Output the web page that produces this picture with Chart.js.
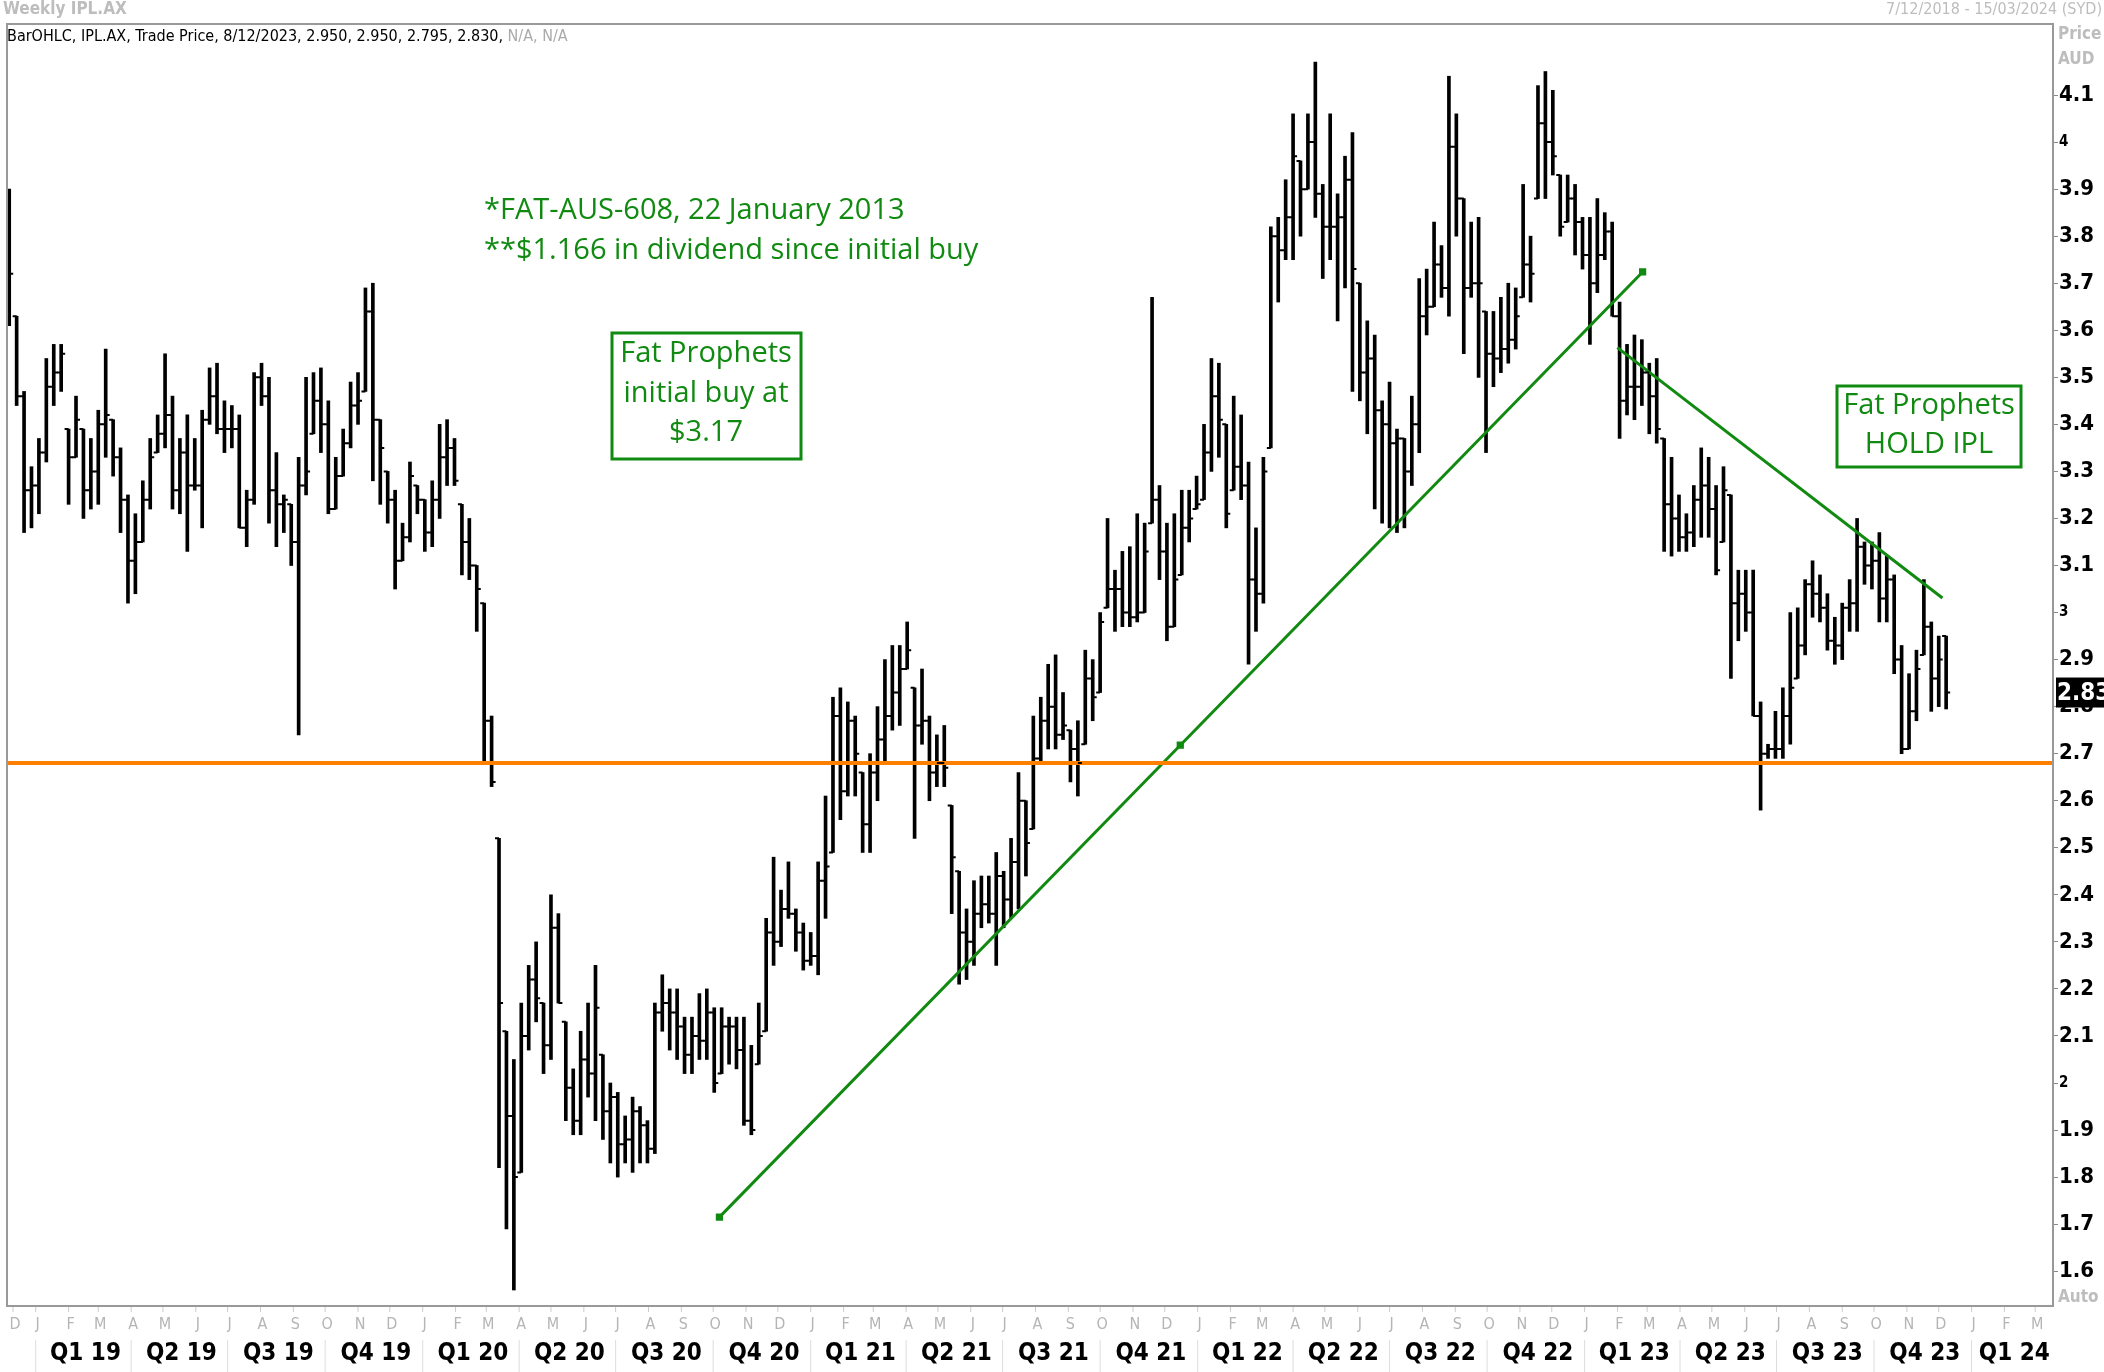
<!DOCTYPE html>
<html>
<head>
<meta charset="utf-8">
<script src="https://cdn.jsdelivr.net/npm/chart.js@4.4.0/dist/chart.umd.min.js"></script>
<style>
  html, body { margin:0; padding:0; background:#fff; }
  #wrap { width:2104px; height:1372px; }
</style>
</head>
<body>
<div id="wrap"><canvas id="c" width="2104" height="1372"></canvas></div>
<script>
// weekly bars, week 0 = 7/12/2018
const highs = [
3.90,3.63,3.47,3.31,3.37,3.54,3.57,3.57,3.39,3.46, 3.39,3.37,3.43,3.56,3.41,3.35,3.25,3.21,3.28,3.37,
3.42,3.55,3.46,3.37,3.42,3.37,3.43,3.52,3.53,3.45, 3.44,3.42,3.26,3.51,3.53,3.50,3.34,3.25,3.23,3.33,
3.50,3.51,3.52,3.45,3.33,3.39,3.49,3.51,3.69,3.70, 3.41,3.30,3.26,3.19,3.32,3.27,3.24,3.28,3.40,3.41,
3.37,3.23,3.20,3.10,3.02,2.78,2.52,
2.11,2.05,2.17,2.25,2.30,2.17,2.40,2.36,2.13,2.03, 2.11,2.17,2.25,2.06,2.00,1.98,1.93,1.97,1.95,1.92,
2.17,2.23,2.20,2.20,2.14,2.14,2.19,2.20,2.16,2.16, 2.14,2.14,2.14,2.08,2.17,2.35,2.48,2.41,2.47,2.37,
2.34,2.32,2.47,2.61,2.82,2.84,2.81,2.78,2.66,2.70, 2.80,2.90,2.93,2.93,2.98,2.84,2.88,2.78,2.74,2.76,
2.59,2.45,2.37,2.43,2.44,2.44,2.49,
2.45,2.52,2.66,2.60,2.78,2.82,2.89,2.91,2.83,2.75, 2.77,2.92,2.90,3.00,3.20,3.09,3.13,3.14,3.21,3.19,
3.67,3.27,3.19,3.21,3.26,3.26,3.29,3.40,3.54,3.53, 3.40,3.46,3.42,3.32,3.18,3.33,3.82,3.84,3.92,4.06,
3.96,4.06,4.17,3.91,4.06,3.89,3.97,4.02,3.70,3.62, 3.59,3.45,3.49,3.39,3.37,3.46,3.71,3.73,3.83,3.78,
4.14,4.06,3.88,3.83,3.84,3.64,3.64,3.67,3.70,3.69, 3.91,3.80,4.12,
4.15,4.11,3.93,3.93,3.91,3.84,3.84,3.88,3.85,3.83, 3.66,3.57,3.59,3.58,3.53,3.54,3.37,3.33,3.25,3.21,
3.27,3.35,3.33,3.27,3.31,3.25,3.09,3.09,3.09,2.81, 2.72,2.79,2.84,3.00,3.01,3.07,3.11,3.08,3.04,2.99,
3.02,3.07,3.20,3.15,3.15,3.17,3.12,3.08,2.93,2.87, 2.92,3.07,2.98,2.95,2.95
];
const lows = [
3.61,3.44,3.17,3.18,3.21,3.32,3.44,3.47,3.23,3.33, 3.20,3.22,3.23,3.33,3.29,3.17,3.02,3.04,3.15,3.22,
3.34,3.35,3.22,3.21,3.13,3.26,3.18,3.40,3.38,3.34, 3.35,3.18,3.14,3.23,3.44,3.19,3.14,3.17,3.10,2.74,
3.25,3.38,3.34,3.21,3.22,3.29,3.35,3.40,3.47,3.28, 3.23,3.19,3.05,3.11,3.15,3.21,3.13,3.14,3.20,3.27,
3.27,3.08,3.07,2.96,2.68,2.63,1.82,
1.69,1.56,1.81,2.07,2.13,2.02,2.05,2.17,1.92,1.89, 1.89,1.97,1.92,1.88,1.83,1.80,1.83,1.81,1.83,1.83,
1.85,2.11,2.07,2.05,2.02,2.02,2.05,2.05,1.98,2.02, 2.04,2.03,1.91,1.89,2.04,2.11,2.25,2.29,2.35,2.28,
2.24,2.25,2.23,2.35,2.49,2.56,2.61,2.61,2.49,2.49, 2.60,2.68,2.75,2.76,2.88,2.52,2.72,2.60,2.63,2.63,
2.36,2.21,2.22,2.25,2.33,2.34,2.25,
2.33,2.35,2.37,2.44,2.54,2.68,2.71,2.71,2.73,2.64, 2.61,2.72,2.77,2.83,3.01,2.96,2.97,2.97,2.98,3.00,
3.19,3.07,2.94,2.97,3.08,3.15,3.22,3.24,3.30,3.33, 3.18,3.26,3.24,2.89,2.96,3.02,3.35,3.66,3.75,3.75,
3.80,3.90,3.84,3.71,3.75,3.62,3.69,3.47,3.45,3.38, 3.22,3.19,3.18,3.17,3.18,3.27,3.34,3.59,3.65,3.67,
3.63,3.80,3.55,3.67,3.50,3.34,3.48,3.51,3.53,3.56, 3.67,3.66,3.88,
3.88,3.93,3.80,3.83,3.76,3.73,3.57,3.68,3.75,3.63, 3.37,3.42,3.41,3.44,3.38,3.36,3.13,3.12,3.13,3.13,
3.14,3.16,3.16,3.08,3.15,2.86,2.94,2.96,2.78,2.58, 2.69,2.69,2.69,2.72,2.86,2.91,2.99,2.98,2.92,2.89,
2.90,2.96,2.96,3.06,3.05,2.98,2.98,2.87,2.70,2.71, 2.77,2.91,2.79,2.80,2.795
];
const closes = [
3.72,3.46,3.26,3.27,3.34,3.48,3.51,3.55,3.33,3.41, 3.26,3.30,3.40,3.42,3.33,3.24,3.11,3.15,3.24,3.33,
3.38,3.42,3.26,3.34,3.27,3.27,3.41,3.46,3.39,3.39, 3.39,3.18,3.24,3.50,3.46,3.26,3.23,3.24,3.15,3.27,
3.30,3.45,3.40,3.22,3.29,3.36,3.44,3.45,3.64,3.41, 3.35,3.24,3.11,3.16,3.29,3.24,3.17,3.24,3.33,3.35,
3.28,3.15,3.10,3.05,2.77,2.64,2.17,
1.93,1.80,2.10,2.22,2.18,2.08,2.33,2.17,1.99,1.92, 2.05,2.02,2.16,1.94,1.97,1.87,1.88,1.94,1.91,1.86,
2.15,2.17,2.15,2.12,2.06,2.10,2.09,2.15,2.00,2.12, 2.12,2.07,1.92,1.90,2.10,2.32,2.30,2.37,2.36,2.32,
2.26,2.27,2.43,2.46,2.78,2.62,2.77,2.70,2.55,2.66, 2.73,2.78,2.83,2.88,2.92,2.76,2.77,2.66,2.68,2.67,
2.48,2.32,2.30,2.36,2.38,2.36,2.44,
2.39,2.47,2.60,2.51,2.69,2.77,2.80,2.74,2.76,2.71, 2.68,2.86,2.82,2.98,3.05,3.05,3.00,2.99,3.00,3.13,
3.24,3.13,2.97,3.07,3.18,3.20,3.23,3.34,3.46,3.41, 3.21,3.31,3.27,3.07,3.04,3.30,3.80,3.77,3.84,3.97,
3.90,4.00,3.89,3.82,3.82,3.84,3.92,3.73,3.51,3.54, 3.43,3.40,3.36,3.37,3.30,3.40,3.63,3.65,3.74,3.69,
3.99,3.88,3.69,3.70,3.70,3.55,3.54,3.56,3.58,3.63, 3.74,3.72,4.04,
4.00,3.97,3.82,3.88,3.83,3.76,3.70,3.76,3.81,3.63, 3.45,3.48,3.48,3.51,3.46,3.39,3.23,3.20,3.16,3.17,
3.24,3.27,3.22,3.09,3.26,3.02,3.04,3.00,2.78,2.70, 2.71,2.71,2.78,2.84,2.93,3.06,3.04,3.01,2.94,2.93,
3.01,3.02,3.14,3.10,3.11,3.03,3.07,2.90,2.71,2.79, 2.88,2.97,2.86,2.90,2.83
];
const lastOpen = 2.95;
const supportLevel = 2.68;
const upTrend = [{x:95.7,y:1.715},{x:157.8,y:2.718},{x:220.1,y:3.724}];
const downTrend = [{x:216.7,y:3.563},{x:260.5,y:3.031}];
const yTicks = [1.6,1.7,1.8,1.9,2,2.1,2.2,2.3,2.4,2.5,2.6,2.7,2.8,2.9,3,3.1,3.2,3.3,3.4,3.5,3.6,3.7,3.8,3.9,4,4.1];
const quarterLabels = ['Q1 19','Q2 19','Q3 19','Q4 19','Q1 20','Q2 20','Q3 20','Q4 20','Q1 21','Q2 21','Q3 21','Q4 21',
  'Q1 22','Q2 22','Q3 22','Q4 22','Q1 23','Q2 23','Q3 23','Q4 23','Q1 24'];
const monthLetters = ['J','F','M','A','M','J','J','A','S','O','N','D'];

const startDate = Date.UTC(2018, 11, 7);
function weekOf(y, m){ return (Date.UTC(y, m, 1) - startDate) / (7*86400000); }

const bars = highs.map((h,i) => ({x:i, y:[lows[i], h]}));
const GREEN = '#118a11';

const decor = {
  id: 'decor',
  afterDatasetsDraw(chart){
    const {ctx, chartArea:a, scales:{x, y}} = chart;
    // open/close ticks
    ctx.save();
    ctx.beginPath(); ctx.rect(a.left, a.top, a.right-a.left, a.bottom-a.top); ctx.clip();
    ctx.strokeStyle = '#000'; ctx.lineWidth = 2;
    for (let i=0;i<highs.length;i++){
      const px = x.getPixelForValue(i);
      let o = i==highs.length-1 ? lastOpen : (i>0 ? closes[i-1] : closes[0]);
      o = Math.min(highs[i], Math.max(lows[i], o));
      ctx.beginPath();
      ctx.moveTo(px-4, y.getPixelForValue(o)); ctx.lineTo(px, y.getPixelForValue(o));
      ctx.moveTo(px, y.getPixelForValue(closes[i])); ctx.lineTo(px+4, y.getPixelForValue(closes[i]));
      ctx.stroke();
    }
    ctx.restore();

    ctx.save();
    // frame
    ctx.strokeStyle = '#999'; ctx.lineWidth = 2;
    ctx.strokeRect(a.left, a.top, a.right-a.left, a.bottom-a.top);
    // top titles
    ctx.fillStyle = '#bdbdbd'; ctx.font = 'bold 17px "DejaVu Sans Condensed", sans-serif';
    ctx.textBaseline = 'middle'; ctx.textAlign = 'left';
    ctx.fillText('Weekly IPL.AX', 3, 10);
    ctx.font = '16px "DejaVu Sans Condensed", sans-serif'; ctx.textAlign = 'right';
    ctx.fillText('7/12/2018 - 15/03/2024 (SYD)', 2102, 10);
    ctx.font = 'bold 17px "DejaVu Sans Condensed", sans-serif'; ctx.textAlign = 'left';
    ctx.fillText('Price', 2058, 35); ctx.fillText('AUD', 2058, 60);
    ctx.fillText('Auto', 2058, 1298);
    // header line
    ctx.font = '16px "DejaVu Sans Condensed", sans-serif';
    const hdr = 'BarOHLC, IPL.AX, Trade Price, 8/12/2023, 2.950, 2.950, 2.795, 2.830, ';
    ctx.fillStyle = '#000'; ctx.fillText(hdr, 7, 37);
    const w = ctx.measureText(hdr).width;
    ctx.fillStyle = '#aaa'; ctx.fillText('N/A, N/A', 7+w, 37);
    // last price box
    const lp = y.getPixelForValue(closes[closes.length-1]);
    ctx.fillStyle = '#000'; ctx.fillRect(a.right+3, lp-15, 2104-a.right-3, 30);
    ctx.fillStyle = '#fff'; ctx.font = 'bold 24px "DejaVu Sans Condensed", sans-serif';
    ctx.fillText('2.83', a.right+4, lp+1);

    // month row
    ctx.font = '16px "DejaVu Sans Condensed", sans-serif'; ctx.textAlign = 'center';
    ctx.strokeStyle = '#ccc'; ctx.lineWidth = 1;
    for (let yr=2018; yr<=2024; yr++){
      for (let m=0;m<12;m++){
        if (yr==2018 && m<11) continue;
        if (yr==2024 && m>3) continue;
        const wk = weekOf(yr, m);
        const px = Math.max(a.left+6, x.getPixelForValue(wk));
        if (px > a.right) continue;
        ctx.beginPath(); ctx.moveTo(px, a.bottom+1); ctx.lineTo(px, a.bottom+6); ctx.stroke();
        ctx.fillStyle = '#b5b5b5'; ctx.fillText(monthLetters[m], px+2, a.bottom+19);
      }
    }
    // quarter row
    ctx.font = 'bold 24px "DejaVu Sans Condensed", sans-serif';
    quarterLabels.forEach((q, k) => {
      const yr = 2019 + Math.floor(k/4), m = (k%4)*3;
      const s = x.getPixelForValue(weekOf(yr, m));
      const e = x.getPixelForValue(weekOf(m==9 ? yr+1 : yr, (m+3)%12));
      ctx.strokeStyle = '#ddd';
      ctx.beginPath(); ctx.moveTo(s, a.bottom+34); ctx.lineTo(s, 1372); ctx.stroke();
      ctx.fillStyle = '#000';
      ctx.fillText(q, (s+Math.min(e, a.right))/2 + 2, a.bottom+48);
    });

    // annotations
    ctx.fillStyle = GREEN; ctx.textAlign = 'left';
    ctx.font = '29px "Open Sans", sans-serif';
    ctx.fillText('*FAT-AUS-608, 22 January 2013', 484, 211);
    ctx.fillText('**$1.166 in dividend since initial buy', 484, 251);
    ctx.strokeStyle = GREEN; ctx.lineWidth = 3;
    ctx.strokeRect(612, 333, 189, 126);
    ctx.textAlign = 'center';
    ctx.fillText('Fat Prophets', 706, 354);
    ctx.fillText('initial buy at', 706, 394);
    ctx.fillText('$3.17', 706, 433);
    ctx.strokeRect(1837, 386, 184, 81);
    ctx.fillText('Fat Prophets', 1929, 406);
    ctx.fillText('HOLD IPL', 1929, 445);
    ctx.restore();
  }
};

const tickFontSmall = {family:'"DejaVu Sans Condensed"', size:15, weight:'bold'};
const tickFontBig = {family:'"DejaVu Sans Condensed"', size:22, weight:'bold'};

new Chart(document.getElementById('c'), {
  data: {
    datasets: [
      { type:'line', data:[{x:-5,y:supportLevel},{x:280,y:supportLevel}], borderColor:'#ff7f00', borderWidth:4, pointRadius:0, order:0 },
      { type:'line', data:upTrend, borderColor:GREEN, borderWidth:3, pointRadius:3, pointStyle:'rect', pointBackgroundColor:GREEN, pointBorderColor:GREEN, order:0 },
      { type:'line', data:downTrend, borderColor:GREEN, borderWidth:3, pointRadius:0, order:0 },
      { type:'bar', data:bars, backgroundColor:'#000', barThickness:3, order:1 }
    ]
  },
  options: {
    responsive:false, animation:false, devicePixelRatio:1,
    layout:{ padding:{ top:24, left:3, bottom:66, right:0 } },
    plugins:{ legend:{display:false}, tooltip:{enabled:false} },
    scales:{
      x:{ type:'linear', min:-0.3, max:275.4, display:false, offset:false },
      y:{ type:'linear', position:'right', min:1.526, max:4.251,
        afterBuildTicks(s){ s.ticks = yTicks.map(v => ({value:v})); },
        afterFit(s){ s.width = 51; },
        grid:{ drawOnChartArea:false, tickLength:5, color:'#888' },
        border:{ color:'#999' },
        ticks:{ color:'#000', padding:1,
          font:(c) => (c.tick && Number.isInteger(c.tick.value)) ? tickFontSmall : tickFontBig,
          callback:(v) => String(v) }
      }
    }
  },
  plugins:[decor]
});
</script>
</body>
</html>
